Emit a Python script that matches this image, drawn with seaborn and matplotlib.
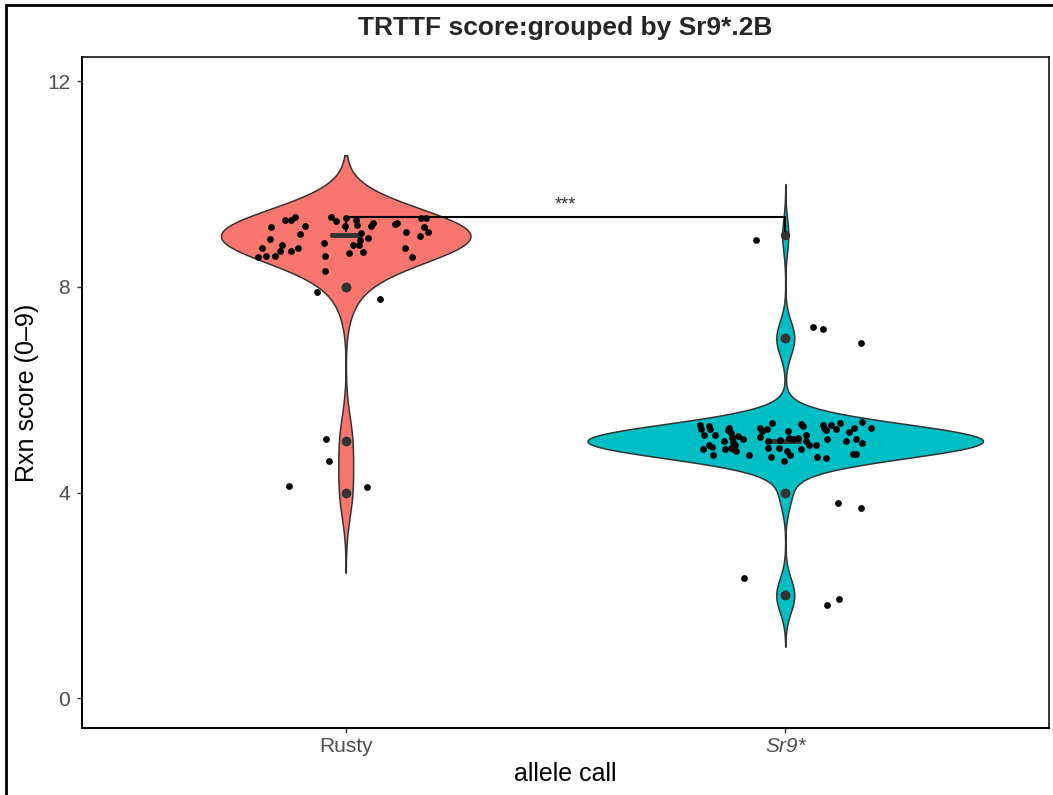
import numpy as np
import pandas as pd
import matplotlib
matplotlib.use("Agg")
import matplotlib.pyplot as plt
from matplotlib.lines import Line2D
import seaborn as sns

# ---- data -------------------------------------------------------------
groups = ["Rusty", "Sr9*"]
group_colors = ["#F8766D", "#00BFC4"]

# raw reaction scores (0-9) per allele call
rusty_levels = [9, 8, 5, 4]
rusty_counts = [42, 3, 2, 2]
sr9_levels = [9, 7, 5, 4, 2]
sr9_counts = [1, 3, 66, 2, 3]

# jittered observation positions (offset from group centre, score)
rusty_jitter_x = [-0.199, -0.181, -0.161, -0.190, -0.150, -0.125, -0.144, -0.108,
                  -0.172, -0.103, -0.093, -0.169, -0.138, -0.125, -0.116, -0.050,
                  -0.048, -0.034, -0.023, 0.000, -0.002, 0.024, 0.026, 0.034,
                  0.051, 0.032, 0.030, 0.017, 0.008, 0.039, 0.058, 0.063,
                  0.113, 0.117, 0.136, 0.134, 0.151, 0.172, 0.183, 0.178,
                  0.187, 0.168,
                  -0.048, -0.065, 0.079,
                  -0.044, -0.039,
                  -0.129, 0.048]
rusty_jitter_y = [8.586, 8.599, 8.599, 8.761, 8.696, 8.696, 8.813, 8.761,
                  8.924, 9.021, 9.183, 9.170, 9.300, 9.300, 9.364, 8.846,
                  8.599, 9.364, 9.286, 9.333, 9.183, 9.300, 9.202, 9.053,
                  8.943, 8.911, 8.813, 8.813, 8.651, 8.683, 9.183, 9.248,
                  9.222, 9.248, 9.072, 8.761, 8.586, 9.333, 9.333, 9.170,
                  9.072, 8.988,
                  8.313, 7.905, 7.763,
                  5.050, 4.610,
                  4.120, 4.110]

sr9_jitter_x = [-0.195, -0.191, -0.186, -0.174, -0.171, -0.161, -0.188, -0.173,
                -0.166, -0.165, -0.140, -0.131, -0.127, -0.123, -0.121, -0.136,
                -0.123, -0.118, -0.114, -0.120, -0.108, -0.097, -0.112, -0.082,
                -0.057, -0.053, -0.042, -0.030, -0.057, -0.040, -0.039, -0.032,
                -0.014, -0.002, 0.004, 0.011, 0.007, 0.009, 0.018, 0.030,
                0.036, 0.041, 0.047, 0.048, 0.053, 0.070, 0.036, 0.073,
                0.085, 0.089, 0.092, 0.096, 0.104, 0.115, 0.124, 0.092,
                0.138, 0.145, 0.157, 0.160, 0.174, 0.174, 0.195, 0.153,
                0.160, -0.012,
                -0.066,
                0.064, 0.085, 0.173,
                0.120, 0.173,
                -0.095, 0.096, 0.123]
sr9_jitter_y = [5.305, 5.227, 5.123, 5.292, 5.240, 5.110, 4.850, 4.916,
                4.883, 4.734, 4.994, 5.208, 5.253, 5.162, 5.058, 4.850,
                4.864, 4.981, 4.916, 4.838, 5.097, 5.045, 4.799, 4.734,
                5.253, 5.188, 5.227, 5.357, 5.078, 4.994, 4.864, 4.689,
                4.864, 4.605, 4.799, 4.734, 5.188, 5.058, 5.045, 5.058,
                5.337, 5.292, 5.110, 4.994, 4.916, 4.916, 4.850, 4.689,
                5.305, 5.253, 5.208, 5.032, 5.318, 5.227, 5.357, 4.669,
                4.994, 5.175, 5.253, 5.032, 5.370, 4.968, 5.253, 4.753,
                4.753, 5.013,
                8.910,
                7.224, 7.179, 6.913,
                3.787, 3.690,
                2.328, 1.809, 1.920]

# significance bracket between the two groups
sig_y = 9.36
sig_tip = 9.07
sig_label = "***"

y_ticks = [0, 4, 8, 12]

# ---- tidy frames ------------------------------------------------------
scores = pd.DataFrame({
    "allele call": np.repeat(groups, [sum(rusty_counts), sum(sr9_counts)]),
    "score": np.concatenate([np.repeat(rusty_levels, rusty_counts),
                             np.repeat(sr9_levels, sr9_counts)]),
})
jitter = pd.DataFrame({
    "pos": np.concatenate([groups.index("Rusty") + np.asarray(rusty_jitter_x),
                           groups.index("Sr9*") + np.asarray(sr9_jitter_x)]),
    "score": np.concatenate([rusty_jitter_y, sr9_jitter_y]),
})

# ---- styling ----------------------------------------------------------
sns.set_style("white")
plt.rcParams["font.family"] = ["Liberation Sans", "DejaVu Sans"]

fig = plt.figure(figsize=(10.53, 7.95), dpi=100)
ax = fig.add_axes([82 / 1053, 1 - 728 / 795, (1049 - 82) / 1053, (728 - 57) / 795])

# equal-area violins (one shared density scale for both groups)
sns.violinplot(data=scores, x="allele call", y="score", hue="allele call",
               order=groups, hue_order=groups, palette=group_colors,
               saturation=1, inner=None, cut=3, bw_method="scott",
               bw_adjust=0.9, density_norm="area", common_norm=True,
               width=0.9, gridsize=512, linecolor="#333333", linewidth=1.1,
               legend=False, ax=ax)

sns.boxplot(data=scores, x="allele call", y="score", order=groups,
            width=0.07, fill=False, color="#333333", linecolor="#333333",
            linewidth=1.0, showcaps=False, whis=1.5, fliersize=5.8,
            flierprops=dict(marker="o", markerfacecolor="#333333",
                            markeredgecolor="#333333"),
            medianprops=dict(linewidth=3.5, color="#333333"), ax=ax)

sns.scatterplot(data=jitter, x="pos", y="score", color="black", s=24,
                linewidth=0, legend=False, zorder=4, ax=ax)

# significance bracket
x0, x1 = groups.index("Rusty"), groups.index("Sr9*")
ax.plot([x0, x0, x1, x1], [sig_tip, sig_y, sig_y, sig_tip],
        color="black", lw=1.5, zorder=5, solid_capstyle="butt")
ax.text((x0 + x1) / 2, sig_y + 0.07, sig_label, ha="center", va="bottom",
        fontsize=13, color="#333333")

ax.set_xlim(-0.6, 1.6)
ax.set_ylim(-0.58, 12.47)
ax.set_yticks(y_ticks)
ax.set_yticklabels([str(t) for t in y_ticks])

ax.set_xlabel("allele call", fontsize=18, color="black", labelpad=4)
ax.set_ylabel("Rxn score (0\u20139)", fontsize=18, color="black", labelpad=6)

ax.tick_params(axis="both", which="major", length=3.5, width=1.0,
               color="#333333", labelsize=15, labelcolor="#4D4D4D", pad=3,
               left=True, bottom=True)
ax.tick_params(axis="y", pad=5)
ax.get_xticklabels()[1].set_fontstyle("italic")

for side in ["top", "right"]:
    ax.spines[side].set_color("black")
    ax.spines[side].set_linewidth(1.1)
for side in ["bottom", "left"]:
    ax.spines[side].set_color("black")
    ax.spines[side].set_linewidth(1.4)

fig.text((82 + 1049) / 2 / 1053, 1 - 28 / 795, "TRTTF score:grouped by Sr9*.2B",
         ha="center", va="center", fontsize=19, fontweight="bold")

# outer frame edges
fig.add_artist(Line2D([6 / 1053, 6 / 1053], [0, 1 - 5 / 795],
                      transform=fig.transFigure, color="black", lw=2.0))
fig.add_artist(Line2D([6 / 1053, 1], [1 - 5 / 795, 1 - 5 / 795],
                      transform=fig.transFigure, color="black", lw=2.0))

fig.savefig("out.png", dpi=100)
